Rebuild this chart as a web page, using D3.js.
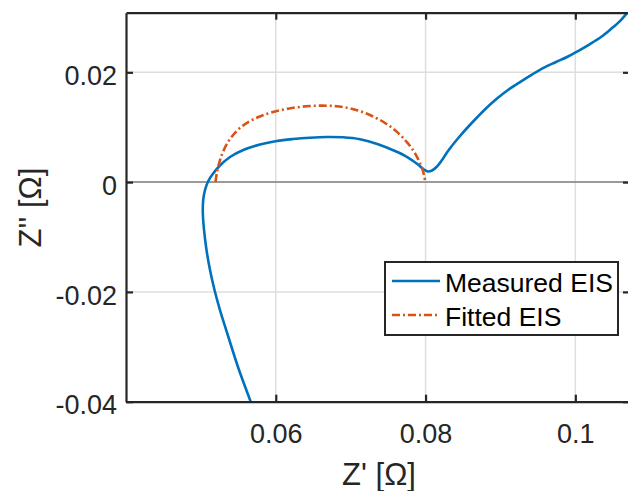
<!DOCTYPE html>
<html><head><meta charset="utf-8">
<script src="https://cdn.jsdelivr.net/npm/d3@7"></script>
<style>body{margin:0;background:#fff}svg{display:block}</style>
</head><body>
<script>
const measuredX = [0.05665,0.05582,0.05500,0.05422,0.05342,0.05255,0.05182,0.05122,0.05075,0.05042,0.05026,0.05031,0.05055,0.05099,0.05166,0.05255,0.05389,0.05566,0.05789,0.06012,0.06234,0.06457,0.0668,0.06898,0.07125,0.07365,0.07592,0.07766,0.07899,0.07979,0.08033,0.08086,0.08153,0.0822,0.08286,0.08366,0.0846,0.08567,0.08687,0.0882,0.08954,0.09101,0.09261,0.09421,0.09582,0.09742,0.09889,0.10036,0.10196,0.10343,0.10476,0.10596,0.1069,0.1077];
const measuredY = [-0.04,-0.03696,-0.03386,-0.03058,-0.02712,-0.0233,-0.01965,-0.01601,-0.01237,-0.00872,-0.00563,-0.00326,-0.00144,0.0002,0.0016,0.00302,0.00457,0.00585,0.00685,0.00749,0.00785,0.00809,0.00822,0.00816,0.0078,0.0069,0.00566,0.00448,0.00321,0.0023,0.00193,0.00211,0.00284,0.00403,0.00539,0.00685,0.0084,0.01004,0.01177,0.01359,0.01523,0.01678,0.01823,0.0196,0.02087,0.02188,0.02279,0.02388,0.02515,0.02643,0.02789,0.02934,0.0308,0.03208];
const fittedX = [0.05195,0.05215,0.05248,0.05295,0.05362,0.05442,0.05536,0.05656,0.05803,0.0599,0.06217,0.06457,0.06684,0.06898,0.07098,0.07285,0.07459,0.07605,0.07726,0.07832,0.07913,0.07966,0.07997];
const fittedY = [0.0,0.00184,0.00366,0.00548,0.0073,0.00876,0.01004,0.01113,0.01204,0.01286,0.0135,0.01386,0.01392,0.01368,0.01304,0.01204,0.01077,0.00931,0.00767,0.00585,0.00384,0.00202,0.0];
const xTicks = [0.06,0.08,0.1];
const xTickLabels = ["0.06","0.08","0.1"];
const yTicks = [-0.04,-0.02,0,0.02];
const yTickLabels = ["-0.04","-0.02","0","0.02"];
const seriesNames = ["Measured EIS","Fitted EIS"];

const W=628,H=491;
const L=126,R=630,T=12.7,B=401.7;
const x=d3.scaleLinear().domain([0.04,0.1073]).range([L,R]);
const y=d3.scaleLinear().domain([-0.04,0.03086]).range([B,T]);
const ink="#262626";
const font="'Liberation Sans', Arial, sans-serif";

const svg=d3.select("body").append("svg").attr("width",W).attr("height",H);
svg.append("defs").append("clipPath").attr("id","clip").append("rect")
  .attr("x",L).attr("y",T).attr("width",R-L).attr("height",B-T);

// grid
const g=svg.append("g");
g.selectAll(".gx").data(xTicks).enter().append("line")
  .attr("x1",d=>x(d)).attr("x2",d=>x(d)).attr("y1",T).attr("y2",B)
  .attr("stroke","#dedede").attr("stroke-width",1.5);
g.selectAll(".gy").data(yTicks).enter().append("line")
  .attr("x1",L).attr("x2",R).attr("y1",d=>y(d)).attr("y2",d=>y(d))
  .attr("stroke","#dedede").attr("stroke-width",1.5);
// zero line
svg.append("line").attr("x1",L).attr("x2",R).attr("y1",y(0)).attr("y2",y(0))
  .attr("stroke","#808080").attr("stroke-width",1.5);

// curves
const line=d3.line().x(d=>x(d[0])).y(d=>y(d[1])).curve(d3.curveCatmullRom.alpha(0.5));
const cg=svg.append("g").attr("clip-path","url(#clip)");
cg.append("path").datum(measuredX.map((v,i)=>[v,measuredY[i]]))
  .attr("d",line).attr("fill","none").attr("stroke","#0072BD").attr("stroke-width",2.6)
  .attr("stroke-linejoin","round");
cg.append("path").datum(fittedX.map((v,i)=>[v,fittedY[i]]))
  .attr("d",line).attr("fill","none").attr("stroke","#D95319").attr("stroke-width",2.6)
  .attr("stroke-dasharray","8,3,2,3");

// axes
const axB=d3.axisBottom(x).tickValues(xTicks).tickFormat((d,i)=>xTickLabels[i]).tickSizeInner(-7).tickSizeOuter(0).tickPadding(22);
const axL=d3.axisLeft(y).tickValues(yTicks).tickFormat((d,i)=>yTickLabels[i]).tickSizeInner(-7).tickSizeOuter(0).tickPadding(9);
const axT=d3.axisTop(x).tickValues(xTicks).tickFormat("").tickSizeInner(-7).tickSizeOuter(0);
const axR=d3.axisRight(y).tickValues(yTicks).tickFormat("").tickSizeInner(-7).tickSizeOuter(0);
function style(sel){
  sel.selectAll("path").attr("stroke",ink).attr("stroke-width",2.2);
  sel.selectAll("line").attr("stroke",ink).attr("stroke-width",2.2);
  sel.selectAll("text").attr("fill",ink).style("font-family",font).style("font-size","27px");
}
svg.append("g").attr("transform",`translate(0,${B})`).call(axB).call(style);
svg.append("g").attr("transform",`translate(${L},0)`).call(axL).call(style)
  .selectAll("text").attr("dy","0.45em");
svg.append("g").attr("transform",`translate(0,${T})`).call(axT).call(style);
svg.append("g").attr("transform",`translate(${R},0)`).call(axR).call(style);

// axis labels
svg.append("text").attr("x",379).attr("y",485).attr("text-anchor","middle")
  .attr("fill",ink).style("font-family",font).style("font-size","31px").text("Z' [Ω]");
svg.append("text").attr("transform",`translate(41,207.5) rotate(-90)`).attr("text-anchor","middle")
  .attr("fill",ink).style("font-family",font).style("font-size","31px").text("Z'' [Ω]");

// legend
const lg=svg.append("g");
lg.append("rect").attr("x",385).attr("y",262).attr("width",233).attr("height",73)
  .attr("fill","#fff").attr("stroke",ink).attr("stroke-width",2);
const colors=["#0072BD","#D95319"], dashes=[null,"8,3,2,3"];
seriesNames.forEach((n,i)=>{
  const yy=281+i*34;
  lg.append("line").attr("x1",392).attr("x2",440).attr("y1",yy).attr("y2",yy)
    .attr("stroke",colors[i]).attr("stroke-width",2.6).attr("stroke-dasharray",dashes[i]);
  lg.append("text").attr("x",445).attr("y",yy+10.5).attr("fill","#000")
    .style("font-family",font).style("font-size","26.5px").text(n);
});
</script>
</body></html>
